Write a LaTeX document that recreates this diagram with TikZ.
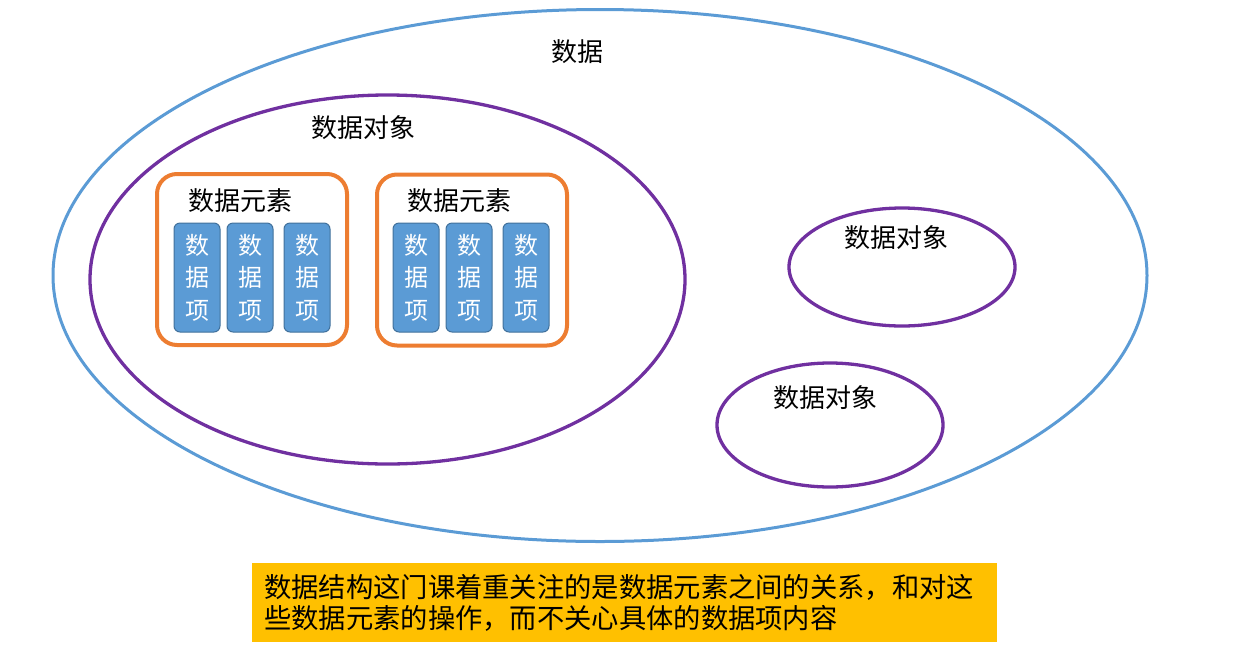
\documentclass[tikz,border=0pt]{standalone}
\usepackage{fontspec}
\newfontfamily\cjk{Noto Sans CJK SC}
\usetikzlibrary{shapes.geometric}
\definecolor{ablue}{RGB}{91,155,213}
\definecolor{dblue}{RGB}{65,113,156}
\definecolor{apurple}{RGB}{112,48,160}
\definecolor{aorange}{RGB}{237,125,49}
\definecolor{ayellow}{RGB}{255,192,0}
\tikzset{
  oval/.style={ellipse, draw, line width=3pt, inner sep=0pt},
  lbl/.style={font=\cjk\fontsize{26}{30}\selectfont, text=black, inner sep=0pt},
  elembox/.style={draw=aorange, line width=4pt, rounded corners=20pt, minimum width=190pt, minimum height=171pt, inner sep=0pt},
  itembox/.style={draw=dblue, line width=1pt, fill=ablue, rounded corners=6pt, minimum width=46pt, minimum height=109pt, inner sep=0pt, align=center, text=white, font=\cjk\fontsize{24}{32.5}\selectfont},
  notebox/.style={fill=ayellow, minimum width=745pt, minimum height=79pt, inner sep=0pt}
}
\begin{document}
\begin{tikzpicture}[x=1pt,y=-1pt]
\useasboundingbox (0,0) rectangle (1240,649);
% outer data ellipse
\node[oval, draw=ablue, minimum width=1094pt, minimum height=532pt] (data) at (600,275.5) {};
\node[lbl] (datalbl) at (577,52) {数据};
% big data object
\node[oval, draw=apurple, line width=3.3pt, minimum width=595pt, minimum height=369pt] (obj1) at (387.5,279.5) {};
\node[lbl] (obj1lbl) at (363,128) {数据对象};
% small data objects
\node[oval, draw=apurple, line width=3.3pt, minimum width=226pt, minimum height=118pt] (obj2) at (902,267) {};
\node[lbl] (obj2lbl) at (896,238) {数据对象};
\node[oval, draw=apurple, line width=3.3pt, minimum width=226pt, minimum height=124pt] (obj3) at (830,425) {};
\node[lbl] (obj3lbl) at (825,398) {数据对象};
% element boxes
\node[elembox] (el1) at (252,259.5) {};
\node[lbl] (el1lbl) at (240,201) {数据元素};
\node[elembox] (el2) at (472,260) {};
\node[lbl] (el2lbl) at (459,201) {数据元素};
% items
\foreach \x/\n in {197/a,250/b,307/c,416/d,469/e,526/f}{
  \node[itembox] (item\n) at (\x,277.5) {数\\据\\项};
}
% note
\node[notebox] (note) at (624.5,602.5) {};
\node[anchor=west, inner sep=0pt, align=left, font=\cjk\fontsize{27.3}{31}\selectfont, text=black] (notetext) at (264,602.5)
  {数据结构这门课着重关注的是数据元素之间的关系，和对这\\些数据元素的操作，而不关心具体的数据项内容};
\end{tikzpicture}
\end{document}
